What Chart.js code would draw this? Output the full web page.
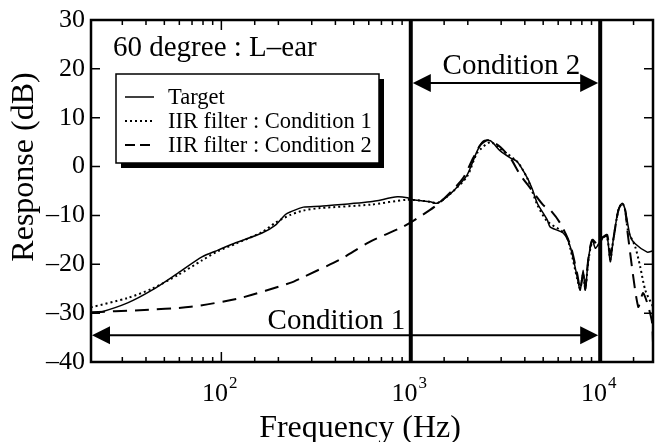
<!DOCTYPE html>
<html>
<head>
<meta charset="utf-8">
<script src="https://cdn.jsdelivr.net/npm/chart.js@4"></script>
<style>
  html, body { margin: 0; padding: 0; background: #fff; }
  canvas { display: block; }
</style>
</head>
<body>
<canvas id="myChart" width="656" height="442"></canvas>
<script>
// data
const targetHz = [20.5, 23, 32, 43, 59, 79, 96, 119, 164, 193, 218, 231, 271, 333, 611, 849, 959, 1030, 1268, 1380, 1616, 1758, 1985, 2243, 2414, 2630, 2968, 3350, 3648, 4121, 4400, 4654, 5254, 5450, 6378, 6950, 7565, 7840, 8130, 8340, 8650, 9080, 9420, 9760, 10370, 10890, 11300, 11720, 12460, 13070, 13560, 14400, 15300, 17710, 18800];
const targetDb = [-30.0, -29.8, -27.9, -25.3, -21.8, -18.5, -17.1, -15.6, -13.6, -12.0, -9.8, -9.3, -8.3, -8.1, -7.2, -6.2, -6.4, -6.8, -7.2, -7.5, -5.6, -4.2, -1.7, 3.2, 5.2, 5.3, 3.2, 1.8, 1.0, -2.3, -4.8, -7.5, -10.9, -12.4, -13.6, -16.4, -22.6, -25.3, -21.2, -25.3, -19.1, -15.0, -16.7, -16.0, -14.4, -14.4, -19.5, -15.0, -8.9, -7.5, -8.9, -14.2, -15.8, -17.5, -17.3];

const cond1Hz = [20.5, 32, 43, 59, 79, 96, 119, 164, 193, 231, 271, 333, 611, 959, 1268, 1380, 1616, 1985, 2243, 2630, 2968, 3648, 4121, 4654, 5254, 6535, 6950, 7565, 7840, 8130, 8340, 8650, 9080, 9760, 10370, 10890, 11300, 11720, 12460, 13070, 13560, 14000, 15300, 16260, 17300, 19000];
const cond1Db = [-28.8, -26.9, -25.0, -22.2, -19.2, -17.3, -15.8, -13.4, -11.5, -9.9, -9.0, -8.5, -7.8, -6.8, -7.2, -7.5, -5.6, -2.0, 2.8, 5.0, 3.6, 1.0, -2.4, -7.8, -11.2, -13.8, -16.8, -23.0, -25.0, -22.0, -25.0, -19.5, -15.5, -16.0, -14.4, -14.6, -19.0, -15.0, -9.0, -7.5, -9.0, -13.0, -16.4, -20.5, -25.3, -28.7];

const cond2Hz = [20.5, 37, 69, 126, 231, 271, 424, 600, 912, 1100, 1380, 1616, 1893, 2138, 2327, 2535, 2725, 2968, 3350, 3782, 4272, 5005, 5450, 6150, 6950, 7565, 7840, 8130, 8340, 8650, 9080, 9760, 10370, 10890, 11300, 11720, 12460, 13070, 13560, 14000, 15870, 16870, 18700, 19000];
const cond2Db = [-29.8, -29.4, -28.7, -26.9, -23.8, -22.6, -19.0, -15.5, -12.3, -10.4, -7.8, -5.3, -2.3, 1.8, 4.4, 5.4, 5.0, 4.0, 1.8, -1.7, -4.4, -7.9, -8.9, -11.6, -16.0, -22.0, -25.0, -22.0, -25.0, -19.0, -15.0, -16.0, -14.4, -14.0, -18.0, -15.0, -9.0, -7.5, -9.0, -14.0, -28.7, -25.9, -31.4, -36.0];

const seriesNames = ['Target', 'IIR filter : Condition 1', 'IIR filter : Condition 2'];
const xTickValues = [100, 1000, 10000];
const xTickExp = ['2', '3', '4'];
const bandEdges = [1000, 10000];
const cond1Band = [20.5, 10000], cond1ArrowDb = -34.5, cond1LabelHz = 405;
const cond2Band = [1000, 10000], cond2ArrowDb = 17.1, cond2LabelHz = 3400;
const plotTitle = '60 degree : L–ear';

const serif = "'Liberation Serif', 'Times New Roman', serif";
const pts = (xs, ys) => xs.map((v, i) => ({ x: v, y: ys[i] }));
const isDecade = v => Math.abs(Math.log10(v) - Math.round(Math.log10(v))) < 1e-6;

function arrow(ctx, x1, x2, y) {
  const L = 18, H = 9;
  ctx.beginPath();
  ctx.moveTo(x1 + L - 2, y); ctx.lineTo(x2 - L + 2, y);
  ctx.lineWidth = 2; ctx.stroke();
  ctx.beginPath();
  ctx.moveTo(x1, y); ctx.lineTo(x1 + L, y - H); ctx.lineTo(x1 + L, y + H); ctx.closePath(); ctx.fill();
  ctx.beginPath();
  ctx.moveTo(x2, y); ctx.lineTo(x2 - L, y - H); ctx.lineTo(x2 - L, y + H); ctx.closePath(); ctx.fill();
}

const decor = {
  id: 'decor',
  afterDraw(chart) {
    const { ctx, chartArea: a, scales: { x, y } } = chart;
    ctx.save();
    ctx.strokeStyle = '#000'; ctx.fillStyle = '#000';

    // band edges
    ctx.lineWidth = 4;
    bandEdges.forEach(f => {
      const px = x.getPixelForValue(f);
      ctx.beginPath(); ctx.moveTo(px, a.top); ctx.lineTo(px, a.bottom); ctx.stroke();
    });

    // arrows
    arrow(ctx, x.getPixelForValue(cond1Band[0]) + 1, x.getPixelForValue(cond1Band[1]) - 2, y.getPixelForValue(cond1ArrowDb));
    arrow(ctx, x.getPixelForValue(cond2Band[0]) + 2, x.getPixelForValue(cond2Band[1]) - 2, y.getPixelForValue(cond2ArrowDb));

    ctx.font = '29px ' + serif;
    ctx.textAlign = 'center'; ctx.textBaseline = 'alphabetic';
    ctx.fillText('Condition 1', x.getPixelForValue(cond1LabelHz), y.getPixelForValue(cond1ArrowDb) - 6);
    ctx.fillText('Condition 2', x.getPixelForValue(cond2LabelHz), y.getPixelForValue(cond2ArrowDb) - 9);

    // title inside plot
    ctx.textAlign = 'left';
    ctx.font = '29px ' + serif;
    ctx.fillText(plotTitle, a.left + 22, 56);

    // legend box with shadow
    const bx = 116, by = 74, bw = 263, bh = 89;
    ctx.fillRect(bx + 5, by + 5, bw, bh);
    ctx.fillStyle = '#fff'; ctx.fillRect(bx, by, bw, bh);
    ctx.fillStyle = '#000';
    ctx.lineWidth = 1.5; ctx.strokeRect(bx, by, bw, bh);
    const dashes = [[], [2, 3], [10, 5]];
    const widths = [1.5, 2, 2];
    ctx.font = '22.5px ' + serif;
    ctx.textBaseline = 'middle';
    seriesNames.forEach((name, i) => {
      const ly = by + 23 + i * 24;
      ctx.setLineDash(dashes[i]); ctx.lineWidth = widths[i];
      ctx.beginPath(); ctx.moveTo(bx + 9, ly); ctx.lineTo(bx + 38, ly); ctx.stroke();
      ctx.setLineDash([]);
      ctx.fillText(name, bx + 52, ly + 1);
    });

    // x tick labels: 10 with superscript exponent
    ctx.textBaseline = 'alphabetic';
    xTickValues.forEach((v, i) => {
      const px = x.getPixelForValue(v);
      ctx.font = '26px ' + serif;
      const w1 = ctx.measureText('10').width;
      ctx.font = '17px ' + serif;
      const w2 = ctx.measureText(xTickExp[i]).width;
      const x0 = px - (w1 + w2) / 2 - 2;
      ctx.textAlign = 'left';
      ctx.font = '26px ' + serif;
      ctx.fillText('10', x0, 401);
      ctx.font = '17px ' + serif;
      ctx.fillText(xTickExp[i], x0 + w1 + 1, 388);
    });

    // axis titles
    ctx.font = '32px ' + serif;
    ctx.textAlign = 'center'; ctx.textBaseline = 'alphabetic';
    ctx.fillText('Frequency (Hz)', 360, 437);
    ctx.save();
    ctx.translate(33, 167); ctx.rotate(-Math.PI / 2);
    ctx.fillText('Response (dB)', 0, 0);
    ctx.restore();

    // frame
    ctx.lineWidth = 2.5;
    ctx.strokeRect(a.left, a.top, a.width, a.height);

    // inward ticks
    ctx.lineWidth = 1.5;
    x.ticks.forEach(t => {
      const v = t.value;
      if (v < x.min || v > x.max) return;
      const px = x.getPixelForValue(v);
      const len = isDecade(v) ? 10 : 5;
      ctx.beginPath();
      ctx.moveTo(px, a.bottom); ctx.lineTo(px, a.bottom - len);
      ctx.moveTo(px, a.top); ctx.lineTo(px, a.top + len);
      ctx.stroke();
    });
    y.ticks.forEach(t => {
      const py = y.getPixelForValue(t.value);
      ctx.beginPath();
      ctx.moveTo(a.left, py); ctx.lineTo(a.left + 9, py);
      ctx.moveTo(a.right, py); ctx.lineTo(a.right - 9, py);
      ctx.stroke();
    });
    ctx.restore();
  }
};

new Chart(document.getElementById('myChart'), {
  type: 'line',
  data: {
    datasets: [
      { label: seriesNames[0], data: pts(targetHz, targetDb), borderColor: '#000', borderWidth: 1.5, pointRadius: 0, tension: 0.25, fill: false },
      { label: seriesNames[1], data: pts(cond1Hz, cond1Db), borderColor: '#000', borderWidth: 2, borderDash: [2, 3], pointRadius: 0, tension: 0.25, fill: false },
      { label: seriesNames[2], data: pts(cond2Hz, cond2Db), borderColor: '#000', borderWidth: 2, borderDash: [14, 8], pointRadius: 0, tension: 0.25, fill: false }
    ]
  },
  options: {
    responsive: false,
    animation: false,
    layout: { padding: { top: 20, right: 3, left: 0, bottom: 0 } },
    plugins: { legend: { display: false }, tooltip: { enabled: false } },
    scales: {
      x: {
        type: 'logarithmic',
        min: 20.5,
        max: 19000,
        grid: { display: false, drawTicks: false },
        border: { display: false },
        afterFit: s => { s.height = 80; s.paddingLeft = 0; s.paddingRight = 0; },
        ticks: { display: false, autoSkip: false }
      },
      y: {
        min: -40,
        max: 30,
        grid: { display: false, drawTicks: false },
        border: { display: false },
        afterFit: s => { s.width = 91; s.paddingTop = 0; s.paddingBottom = 0; },
        ticks: {
          stepSize: 10, padding: 6, color: '#000',
          font: { family: serif, size: 26 },
          callback: v => String(v).replace('-', '–')
        }
      }
    }
  },
  plugins: [decor]
});
</script>
</body>
</html>
